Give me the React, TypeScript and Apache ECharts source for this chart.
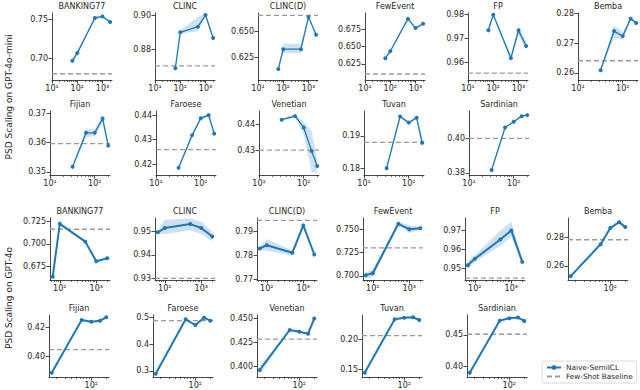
import React, { useEffect, useRef } from "react";
import * as echarts from "echarts";

// ---------- data ----------
const ENG_X = [64, 100, 500, 1000, 2000];
const LANG_X_MINI = [32, 64, 100, 150, 200];
const LANG_X_4O = [16, 64, 100, 150, 200];

const TITLES = ["BANKING77", "CLINC", "CLINC(D)", "FewEvent", "FP", "Bemba", "Fijian", "Faroese", "Venetian", "Tuvan", "Sardinian"];

// GPT-4o-mini block
const MINI_MEAN = [
  [0.6965, 0.7064, 0.7513, 0.7533, 0.7461],
  [0.8689, 0.8899, 0.8932, 0.9, 0.8866],
  [0.6136, 0.6328, 0.6328, 0.664, 0.6468],
  [0.6332, 0.6432, 0.6896, 0.6764, 0.6826],
  [0.9734, 0.98, 0.9617, 0.9734, 0.9668],
  [0.2609, 0.2741, 0.2724, 0.2783, 0.2768],
  [0.3517, 0.3634, 0.3634, 0.3683, 0.359],
  [0.4185, 0.4318, 0.4388, 0.4401, 0.4325],
  [0.4419, 0.4433, 0.4388, 0.4297, 0.4238],
  [0.18, 0.196, 0.1941, 0.1956, 0.1879],
  [0.3816, 0.4064, 0.4097, 0.413, 0.4136],
];
const MINI_LOW = [
  [0.6935, 0.7045, 0.75, 0.7518, 0.7448],
  [0.8675, 0.889, 0.8905, 0.8993, 0.886],
  [0.6125, 0.629, 0.629, 0.663, 0.646],
  [0.632, 0.6415, 0.688, 0.6752, 0.6815],
  [0.9712, 0.9795, 0.9605, 0.9715, 0.965],
  [0.2605, 0.2718, 0.2712, 0.2778, 0.2762],
  [0.3513, 0.362, 0.3622, 0.3672, 0.3583],
  [0.418, 0.431, 0.4382, 0.4395, 0.4315],
  [0.4414, 0.4428, 0.436, 0.4215, 0.4212],
  [0.1797, 0.1956, 0.1937, 0.1952, 0.1855],
  [0.3812, 0.406, 0.4093, 0.4126, 0.4132],
];
const MINI_HIGH = [
  [0.6995, 0.709, 0.7528, 0.7548, 0.7474],
  [0.87, 0.891, 0.899, 0.9007, 0.8872],
  [0.6148, 0.638, 0.638, 0.665, 0.6476],
  [0.6345, 0.645, 0.6912, 0.6776, 0.6838],
  [0.9755, 0.9806, 0.963, 0.975, 0.969],
  [0.2613, 0.276, 0.2738, 0.2788, 0.2774],
  [0.3521, 0.3645, 0.3648, 0.3695, 0.3597],
  [0.419, 0.4326, 0.4395, 0.4408, 0.4335],
  [0.4424, 0.444, 0.4412, 0.4375, 0.4262],
  [0.1803, 0.1964, 0.1945, 0.196, 0.1895],
  [0.382, 0.4068, 0.4101, 0.4134, 0.414],
];
const MINI_BASE = [0.68, 0.8703, 0.6656, 0.6106, 0.9554, 0.2641, 0.3597, 0.4259, 0.43, 0.188, 0.4];
const MINI_YTICKS = [
  [0.7, 0.75], [0.88, 0.9], [0.625, 0.65], [0.625, 0.65, 0.675], [0.96, 0.97, 0.98], [0.26, 0.27, 0.28],
  [0.35, 0.36, 0.37], [0.42, 0.43, 0.44], [0.43, 0.44], [0.18, 0.19], [0.38, 0.4],
];

// GPT-4o block
const G4O_MEAN = [
  [0.6636, 0.7224, 0.7026, 0.6807, 0.6841],
  [0.9497, 0.9515, 0.9532, 0.9515, 0.9479],
  [0.7829, 0.7843, 0.7811, 0.7926, 0.7804],
  [0.7008, 0.7029, 0.7558, 0.75, 0.7511],
  [0.9517, 0.9551, 0.9652, 0.97, 0.9535],
  [0.2528, 0.2753, 0.2866, 0.2908, 0.2873],
  [0.3884, 0.4251, 0.4239, 0.4246, 0.427],
  [0.29, 0.4925, 0.4713, 0.4985, 0.4873],
  [0.3966, 0.4379, 0.4361, 0.4341, 0.4497],
  [0.1439, 0.2328, 0.2355, 0.2362, 0.2317],
  [0.3905, 0.4726, 0.4763, 0.4774, 0.4722],
];
const G4O_LOW = [
  [0.6625, 0.7205, 0.7015, 0.68, 0.6833],
  [0.9492, 0.949, 0.9505, 0.949, 0.9458],
  [0.7822, 0.782, 0.78, 0.792, 0.7798],
  [0.6975, 0.6985, 0.7535, 0.746, 0.7495],
  [0.9495, 0.9535, 0.962, 0.9665, 0.952],
  [0.252, 0.2745, 0.286, 0.2902, 0.2866],
  [0.3878, 0.4245, 0.4233, 0.424, 0.4264],
  [0.287, 0.4895, 0.4683, 0.4955, 0.4843],
  [0.392, 0.437, 0.4352, 0.4332, 0.4487],
  [0.1424, 0.2313, 0.234, 0.2347, 0.2302],
  [0.389, 0.4711, 0.4748, 0.4759, 0.4707],
];
const G4O_HIGH = [
  [0.6645, 0.724, 0.7038, 0.6815, 0.685],
  [0.9502, 0.955, 0.9556, 0.9543, 0.95],
  [0.7836, 0.7868, 0.7822, 0.7932, 0.781],
  [0.704, 0.707, 0.758, 0.754, 0.7527],
  [0.954, 0.957, 0.97, 0.9745, 0.955],
  [0.2536, 0.2761, 0.2872, 0.2914, 0.288],
  [0.389, 0.4257, 0.4245, 0.4252, 0.4276],
  [0.293, 0.4955, 0.4743, 0.5015, 0.4903],
  [0.401, 0.4388, 0.437, 0.435, 0.4507],
  [0.1454, 0.2343, 0.237, 0.2377, 0.2332],
  [0.392, 0.4741, 0.4778, 0.4789, 0.4737],
];
const G4O_BASE = [0.7164, 0.93, 0.7947, 0.73, 0.945, 0.2784, 0.4045, 0.4873, 0.4285, 0.2055, 0.4511];
const G4O_YTICKS = [
  [0.675, 0.7, 0.725], [0.93, 0.94, 0.95], [0.77, 0.78, 0.79], [0.7, 0.725, 0.75], [0.95, 0.96, 0.97], [0.26, 0.28],
  [0.4, 0.42], [0.3, 0.4, 0.5], [0.4, 0.425, 0.45], [0.15, 0.2], [0.4, 0.45],
];

const X_TICK_LABELS: Record<number, string> = { 1: "10\u00b9", 2: "10\u00b2", 3: "10\u00b3" };
const LEGEND_NAMES = ["Naive-SemiICL", "Few-Shot Baseline"];
const ROW_LABELS = ["PSD Scaling on GPT-4o-mini", "PSD Scaling on GPT-4o"];

// ---------- layout (positions / axis ranges) ----------
// [left, top, height, ymin, ymax, decimals]
const MINI_LAYOUT = [
  [52, 13, 67, 0.672, 0.7577, 2],
  [155, 13, 67, 0.862, 0.9012, 2],
  [258, 13, 67, 0.6028, 0.668, 3],
  [365, 13, 67, 0.602, 0.698, 3],
  [468, 13, 67, 0.9525, 0.9807, 2],
  [578, 13, 67, 0.2576, 0.2802, 2],
  [50, 111, 64, 0.3489, 0.3709, 2],
  [156, 111, 64, 0.4155, 0.4418, 2],
  [259, 111, 64, 0.4203, 0.4453, 2],
  [364, 111, 64, 0.1779, 0.1977, 2],
  [469, 111, 64, 0.3787, 0.416, 2],
];
const G4O_LAYOUT = [
  [50, 218, 62, 0.6599, 0.7289, 3],
  [155, 218, 62, 0.9293, 0.9558, 2],
  [257, 218, 62, 0.7697, 0.7957, 2],
  [363, 218, 62, 0.6956, 0.762, 3],
  [465, 218, 62, 0.944, 0.9765, 2],
  [568, 218, 62, 0.2501, 0.2937, 2],
  [49, 315, 62, 0.3854, 0.4286, 2],
  [153, 315, 62, 0.2776, 0.5086, 1],
  [257, 315, 62, 0.3894, 0.4534, 3],
  [362, 315, 62, 0.1367, 0.24, 2],
  [467, 315, 62, 0.3837, 0.4815, 2],
];
const AX_W = 60;
const FONT = "DejaVu Sans";
const BLUE = "#1f77b4";
const BAND = "rgba(31,119,180,0.22)";
const SPINE = "#333333";
const TXT = "#262626";

function bandRenderItem(params: any, api: any) {
  if (params.dataIndexInside !== 0) return null;
  const n = params.dataInsideLength;
  const upper: number[][] = [];
  const lower: number[][] = [];
  for (let k = 0; k < n; k++) {
    upper.push(api.coord([api.value(0, k), api.value(2, k)]));
    lower.push(api.coord([api.value(0, k), api.value(1, k)]));
  }
  return {
    type: "polygon",
    shape: { points: upper.concat(lower.reverse()) },
    style: { fill: BAND, stroke: "none" },
  };
}

function buildOption() {
  type Panel = {
    title: string; xs: number[]; mean: number[]; low: number[]; high: number[]; base: number;
    ticks: number[]; layout: number[]; fixedLeft: boolean; lw: number;
  };
  const panels: Panel[] = [];
  TITLES.forEach((t, i) => {
    panels.push({
      title: t, xs: i < 5 ? ENG_X : LANG_X_MINI,
      mean: MINI_MEAN[i], low: MINI_LOW[i], high: MINI_HIGH[i], base: MINI_BASE[i],
      ticks: MINI_YTICKS[i], layout: MINI_LAYOUT[i], fixedLeft: true, lw: 1.3,
    });
  });
  TITLES.forEach((t, i) => {
    panels.push({
      title: t, xs: i < 5 ? ENG_X : LANG_X_4O,
      mean: G4O_MEAN[i], low: G4O_LOW[i], high: G4O_HIGH[i], base: G4O_BASE[i],
      ticks: G4O_YTICKS[i], layout: G4O_LAYOUT[i], fixedLeft: false, lw: 2,
    });
  });

  const grid: any[] = [];
  const xAxis: any[] = [];
  const yAxis: any[] = [];
  const series: any[] = [];
  const graphic: any[] = [];

  panels.forEach((p, i) => {
    const [left, top, h, ymin, ymax, dec] = p.layout;
    const lx = p.xs.map((v) => Math.log10(v));
    const lo = Math.min(...lx);
    const hi = Math.max(...lx);
    const m = 0.05 * (hi - lo);
    const xmin = p.fixedLeft ? 1 : lo - m;
    const xmax = hi + m;
    const majors: number[] = [];
    const minors: number[] = [];
    for (let d = Math.floor(xmin); d <= Math.ceil(xmax); d++) {
      if (d >= xmin - 1e-9 && d <= xmax + 1e-9) majors.push(d);
      for (let k = 2; k <= 9; k++) {
        const v = d + Math.log10(k);
        if (v > xmin && v < xmax) minors.push(v);
      }
    }
    grid.push({ left, top, width: AX_W, height: h, containLabel: false });
    xAxis.push({
      type: "value", gridIndex: i, min: xmin, max: xmax, position: "bottom",
      axisLine: { show: true, onZero: false, lineStyle: { color: SPINE, width: 0.9 } },
      axisTick: { show: true, length: 3.5, customValues: majors, lineStyle: { color: SPINE, width: 0.9 } },
      axisLabel: {
        customValues: majors, formatter: (v: number) => X_TICK_LABELS[Math.round(v)] || "",
        fontSize: 8, color: TXT, margin: 4, fontFamily: FONT,
      },
      splitLine: { show: false },
    });
    xAxis.push({
      type: "value", gridIndex: i, min: xmin, max: xmax, position: "bottom",
      axisLine: { show: false, onZero: false },
      axisTick: { show: true, length: 2, customValues: minors, lineStyle: { color: SPINE, width: 0.7 } },
      axisLabel: { show: false },
      splitLine: { show: false },
    });
    yAxis.push({
      type: "value", gridIndex: i, min: ymin, max: ymax,
      axisLine: { show: true, onZero: false, lineStyle: { color: SPINE, width: 0.9 } },
      axisTick: { show: true, length: 3.5, customValues: p.ticks, lineStyle: { color: SPINE, width: 0.9 } },
      axisLabel: {
        customValues: p.ticks, formatter: (v: number) => v.toFixed(dec),
        fontSize: 8, color: TXT, margin: 4, fontFamily: FONT,
      },
      splitLine: { show: false },
    });
    const xi = 2 * i;
    series.push({
      type: "custom", xAxisIndex: xi, yAxisIndex: i, silent: true, clip: true, z: 1,
      data: lx.map((x, j) => [x, p.low[j], p.high[j]]),
      encode: { x: 0, y: [1, 2] },
      renderItem: bandRenderItem,
    });
    series.push({
      type: "line", name: LEGEND_NAMES[0], xAxisIndex: xi, yAxisIndex: i,
      data: lx.map((x, j) => [x, p.mean[j]]), symbol: "circle", symbolSize: 4,
      itemStyle: { color: BLUE }, lineStyle: { color: BLUE, width: p.lw }, z: 3,
    });
    series.push({
      type: "line", name: LEGEND_NAMES[1], xAxisIndex: xi, yAxisIndex: i,
      data: [[xmin, p.base], [xmax, p.base]], symbol: "none",
      itemStyle: { color: "#999999" },
      lineStyle: { color: "#999999", width: 1.3, type: [5, 3] }, z: 2,
    });
    graphic.push({
      type: "text", x: left + AX_W / 2, y: top - 7,
      style: {
        text: p.title, fontSize: 8, fontFamily: FONT, fill: TXT,
        textAlign: "center", textVerticalAlign: "middle",
      },
    });
  });

  graphic.push({
    type: "text", x: 9, y: 97, rotation: Math.PI / 2,
    style: { text: ROW_LABELS[0], fontSize: 9, fontFamily: FONT, fill: TXT, textAlign: "center", textVerticalAlign: "middle" },
  });
  graphic.push({
    type: "text", x: 9, y: 298, rotation: Math.PI / 2,
    style: { text: ROW_LABELS[1], fontSize: 9, fontFamily: FONT, fill: TXT, textAlign: "center", textVerticalAlign: "middle" },
  });

  return {
    animation: false,
    backgroundColor: "#ffffff",
    textStyle: { fontFamily: FONT },
    grid, xAxis, yAxis, series, graphic,
    legend: {
      left: 542, top: 361, orient: "vertical", selectedMode: false,
      data: [{ name: LEGEND_NAMES[0] }, { name: LEGEND_NAMES[1], itemStyle: { opacity: 0 } }],
      itemWidth: 14, itemHeight: 6, itemGap: 2, padding: [3, 4, 3, 4],
      borderColor: "#d0d0d0", borderWidth: 0.8, borderRadius: 2,
      textStyle: { fontSize: 7.3, color: TXT, fontFamily: FONT },
    },
  };
}

export default function App() {
  const ref = useRef<HTMLDivElement>(null);
  useEffect(() => {
    const chart = echarts.init(ref.current!, null, { renderer: "svg" });
    chart.setOption(buildOption() as any);
    return () => chart.dispose();
  }, []);
  return <div ref={ref} style={{ position: "fixed", left: 0, top: 0, width: 640, height: 390 }} />;
}
